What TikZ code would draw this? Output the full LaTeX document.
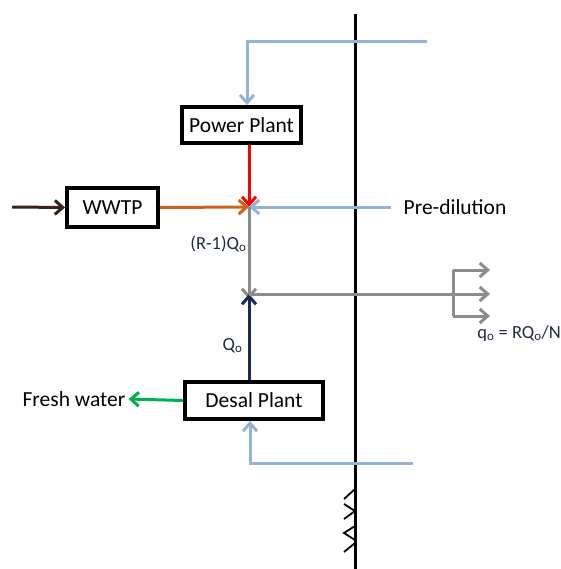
\documentclass[tikz,border=0pt]{standalone}
\usepackage{fontspec}
\setmainfont{Carlito}
\usetikzlibrary{arrows.meta,positioning}
\definecolor{cSea}{HTML}{95B3D7}
\definecolor{cHeat}{HTML}{FF0000}
\definecolor{cWaste}{HTML}{C8651B}
\definecolor{cMix}{HTML}{8C8C8C}
\definecolor{cBrine}{HTML}{1B2A5E}
\definecolor{cFresh}{HTML}{00B050}
\definecolor{cIn}{HTML}{3A2418}
\definecolor{cLabel}{HTML}{1F2A44}

\begin{document}
\begin{tikzpicture}[
    x=1pt, y=-1pt,
    font=\fontsize{21.5}{26}\selectfont,
    plant/.style={draw=black, line width=3.8pt, fill=white, inner sep=3pt},
    lbl/.style={font=\fontsize{18.5}{22}\selectfont, text=cLabel, inner sep=1pt},
    arr/.style={-{Straight Barb[length=8pt,width=14pt]}, line width=3pt},
  ]
  \useasboundingbox (0,0) rectangle (560,569);

  % --- shoreline ---
  \coordinate (shtop) at (355,14);
  \coordinate (shbot) at (355,569);
  \draw[line width=3pt] (shtop) -- (shbot);
  \draw[line width=1.8pt] (355,489) -- (344,499)
    (344,504) -- (355,511) -- (344,519)
    (355,526) -- (344,533) -- (355,540)
    (355,543) -- (344,552);

  % --- plants ---
  \node[plant, minimum width=119pt, minimum height=36pt] (power) at (241.5,125) {Power Plant};
  \node[plant, minimum width=91pt, minimum height=39pt] (wwtp) at (112.5,207.5) {WWTP};
  \node[plant, minimum width=138pt, minimum height=37pt] (desal) at (254,400.5) {Desal Plant};

  \node[inner xsep=12pt, inner ysep=3pt] (pre) at (455,207) {Pre-dilution};
  \node[inner sep=3pt] (fresh) at (74,399) {Fresh water};

  % --- junctions ---
  \coordinate (mixA) at (249,207);
  \coordinate (mixB) at (249,294);
  \coordinate (intake) at (427,42);
  \coordinate (intakeC) at (247,42);
  \coordinate (intakeD) at (413,463);
  \coordinate (intakeE) at (250,463);
  \coordinate (wwin) at (12,207);
  \coordinate (diff) at (453,294);
  \coordinate (diffU) at (453,270);
  \coordinate (diffL) at (453,316);
  \coordinate (portU) at (490,270);
  \coordinate (portM) at (490,294);
  \coordinate (portL) at (490,316);

  % --- arrows ---
  \draw[arr, cSea] (intake) -- (intakeC) -- (intakeC |- power.north);
  \draw[arr, cHeat] (power.south -| mixA) -- (mixA);
  \draw[arr, cIn] (wwin) -- (wwtp.west);
  \draw[arr, cWaste] (wwtp.east) -- (mixA);
  \draw[arr, cSea] (pre.west) -- (mixA);
  \draw[arr, cMix] (mixA) -- node[lbl, left, pos=0.4]{(R-1)Q$_\mathrm{o}$} ([yshift=-5pt]mixB);
  \draw[arr, cBrine] (desal.north -| mixB) -- node[lbl, left, pos=0.4, xshift=-4pt]{Q$_\mathrm{o}$} (mixB);
  \draw[arr, cMix] (mixB) -- (portM);
  \draw[line width=3pt, cMix] (diffU) -- (diffL);
  \draw[arr, cMix] (diffU) -- (portU);
  \draw[arr, cMix] (diffL) -- (portL);
  \node[lbl, anchor=north east] (qo) at (562,324) {q$_\mathrm{o}$ = RQ$_\mathrm{o}$/N};
  \draw[arr, cFresh] (desal.west) -- (fresh.east);
  \draw[arr, cSea] (intakeD) -- (intakeE) -- (intakeE |- desal.south);
\end{tikzpicture}
\end{document}
